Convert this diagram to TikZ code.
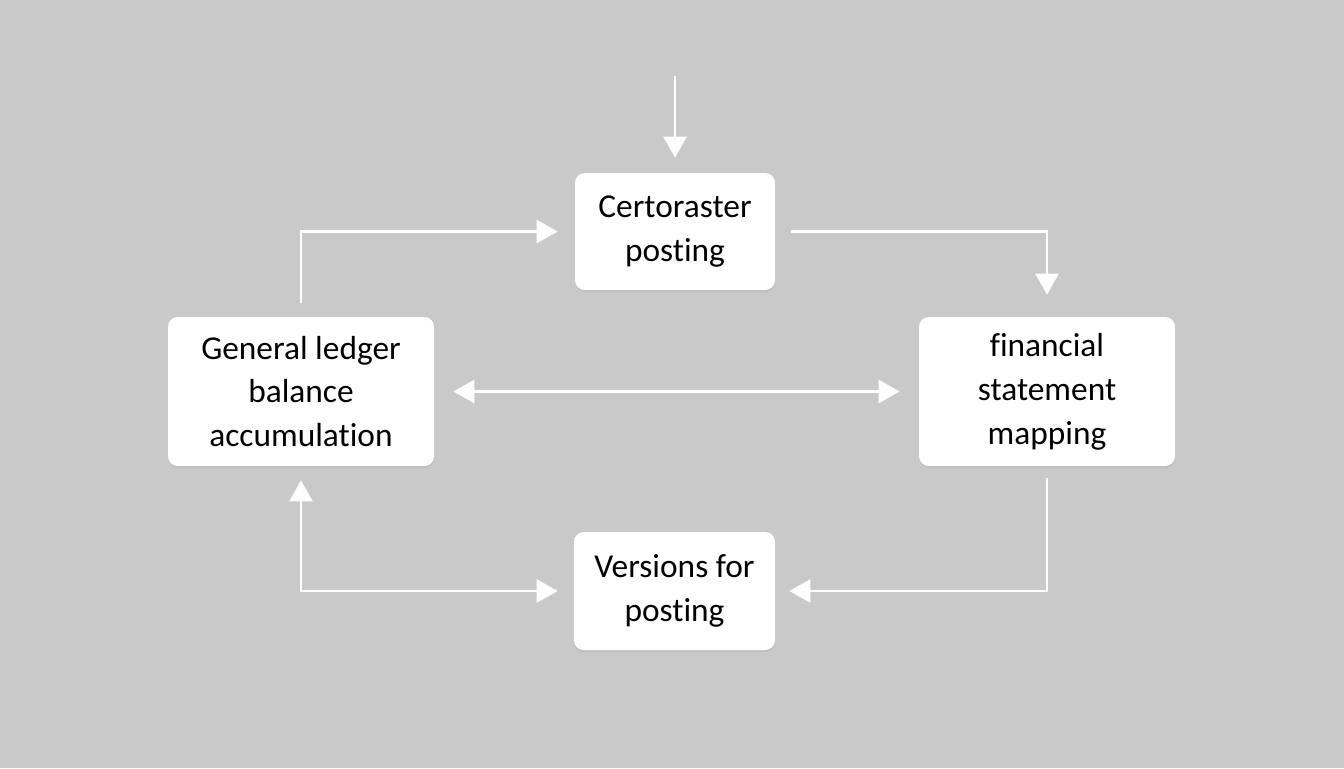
\documentclass[tikz,border=0pt]{standalone}
\usepackage{fontspec}
\setmainfont{Carlito}[Ligatures=NoCommon]
\usetikzlibrary{arrows.meta,shadows}
\definecolor{bggray}{RGB}{201,201,201}
\tikzset{
  box/.style={fill=white, rounded corners=5.5pt, align=center, inner sep=0pt,
    drop shadow={opacity=0.12, shadow xshift=0pt, shadow yshift=-1.2pt}},
  flow/.style={draw=white, line width=1.4pt,
    -{Triangle[length=0.42cm, width=0.46cm]}},
}
\begin{document}
\begin{tikzpicture}[x=0.02cm, y=-0.02cm, font=\fontsize{19}{25}\selectfont]
  \fill[bggray] (0,0) rectangle (1344,768);
  \foreach \n/\x/\y/\w/\h/\t in {cert/675/231.5/4.0/2.34/{Certoraster\\ posting},
      gl/301/391.5/5.32/2.98/{General ledger\\ balance\\ accumulation},
      fs/1047/391.5/5.12/2.98/{financial\\ statement\\ mapping},
      ver/674.5/591/4.02/2.36/{Versions for\\ posting}} {
    \node[box, minimum width=\w cm, minimum height=\h cm] (\n) at (\x,\y) {\t};
  }
  \coordinate (src) at (675,76);
  \draw[flow, shorten >=0.3cm] (src) -- (cert.north);
  \draw[flow, shorten <=0.28cm, shorten >=0.34cm] (gl.north) |- (cert.west);
  \draw[flow, shorten <=0.32cm, shorten >=0.44cm] (cert.east) -| (fs.north);
  \draw[flow, {Triangle[length=0.42cm, width=0.46cm]}-{Triangle[length=0.42cm, width=0.46cm]},
    shorten <=0.38cm, shorten >=0.38cm] (gl.east) -- (fs.west);
  \draw[flow, shorten <=0.24cm, shorten >=0.28cm] (fs.south) |- (ver.east);
  \draw[flow, {Triangle[length=0.42cm, width=0.46cm]}-{Triangle[length=0.42cm, width=0.46cm]},
    shorten <=0.32cm, shorten >=0.28cm] (ver.west) -| (gl.south);
\end{tikzpicture}
\end{document}
